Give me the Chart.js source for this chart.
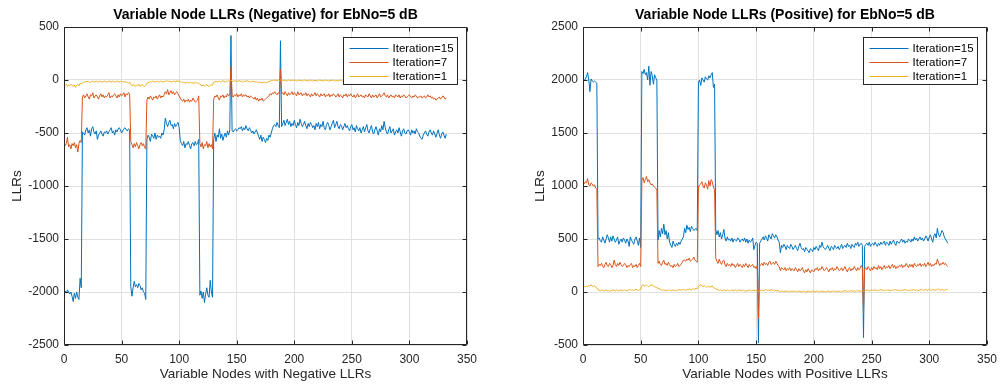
<!DOCTYPE html>
<html>
<head>
<meta charset="utf-8">
<script src="https://cdn.jsdelivr.net/npm/chart.js@4.4.0/dist/chart.umd.min.js"></script>
<style>
  body { margin: 0; background: #fff; }
  #wrap { position: relative; width: 1006px; height: 391px; }
  .panel { position: absolute; top: 0; height: 391px; }
  #left { left: 0; width: 500px; }
  #right { left: 500px; width: 506px; }
</style>
</head>
<body>
<div id="wrap">
  <div class="panel" id="left"><canvas id="negChart" width="500" height="391"></canvas></div>
  <div class="panel" id="right"><canvas id="posChart" width="506" height="391"></canvas></div>
</div>
<script>
const seriesNames = ['Iteration=15', 'Iteration=7', 'Iteration=1']
const seriesColors = ['#0072bd', '#d95319', '#edb120']
const xTicks = [0, 50, 100, 150, 200, 250, 300, 350]
const negYTicks = [-2500, -2000, -1500, -1000, -500, 0, 500]
const posYTicks = [-500, 0, 500, 1000, 1500, 2000, 2500]

// negative LLRs, one value per variable node (1..332)
const negIter15 = [
  -1990,-2010,-1980,-2000,-2020,-2000,-2040,-2090,-2010,-2060,-2000,-2050,-2070,-1870,-1960,
  -490,-500,-520,-470,-450,-500,-470,-530,-460,-440,-490,-510,-480,-560,-520,-500,-480,-510,-530,-490,
  -500,-480,-510,-490,-470,-450,-500,-480,-520,-470,-490,-460,-450,-470,-500,-480,-460,-450,-470,-480,-460,-470,
  -1950,-2040,-1960,-1900,-1950,-1930,-1960,-1920,-1940,-1980,-1960,-2000,-2010,-2070,
  -560,-520,-540,-580,-510,-530,-550,-500,-560,-520,-540,-530,-550,-500,-520,-470,
  -360,-410,-440,-400,-380,-430,-420,-460,-410,-440,-420,-400,-450,
  -570,-600,-620,-580,-640,-600,-610,-580,-620,-650,-600,-590,-620,-580,-610,-600,-560,
  -2030,-1990,-2060,-2000,-2100,-2020,-1960,-2030,-2050,-1890,-2000,-2050,
  -560,-500,-580,-520,-540,-460,-550,-510,-570,-530,-500,-540,-480,-520,-470,
  420,
  -480,-490,-470,-460,-480,-470,-450,-460,-440,-480,-450,-470,-430,-460,-480,-450,-470,-500,-480,-510,
  -490,-470,-500,-530,-560,-520,-580,-540,-560,-590,-550,-570,-520,-540,-500,-460,-430,-420,-440,-400,-430,-450,
  370,
  -440,-410,-380,-430,-400,-370,-420,-390,-440,-410,-430,-380,-420,-450,-400,-430,-370,-410,-440,-420,
  -390,-430,-460,-410,-440,-400,-420,-450,-430,-470,-410,-440,-400,-460,-420,-440,-390,-450,-470,-420,
  -400,-430,-470,-440,-410,-380,-450,-420,-390,-440,-460,-420,-430,-470,-440,-410,-450,-430,-460,-480,
  -440,-420,-470,-450,-490,-430,-460,-480,-450,-500,-470,-440,-490,-450,-420,-480,-500,-460,-430,-490,
  -510,-470,-440,-480,-520,-460,-490,-430,-470,-390,-450,-490,-510,-470,-440,-500,-480,-460,-520,-490,
  -470,-500,-450,-490,-530,-480,-460,-500,-510,-480,-470,-490,-520,-470,-500,-480,-510,-460,-490,-500,
  -530,-550,-560,-520,-500,-480,-510,-530,-490,-470,-500,-520,-480,-510,-540,-500,-470,-520,-550,-510,
  -490,-520,-550,-510
]
const negIter7 = [
  -620,-600,-540,-630,-610,-650,-600,-620,-590,-640,-610,-680,-600,-570,-590,
  -160,-140,-170,-150,-130,-160,-180,-140,-150,-120,-170,-150,-140,-160,-180,-150,-130,-160,-140,-170,
  -150,-160,-140,-120,-170,-150,-160,-140,-130,-150,-170,-140,-160,-130,-150,-140,-120,-160,-130,-140,-120,-130,
  -580,-610,-640,-600,-630,-590,-620,-650,-610,-590,-620,-600,-640,-650,
  -190,-160,-180,-150,-170,-190,-160,-170,-150,-180,-160,-140,-170,-150,-160,-140,
  -110,-130,-90,-140,-120,-100,-130,-110,-140,-120,-110,-130,-150,
  -170,-190,-200,-180,-210,-190,-200,-180,-210,-190,-200,-170,-190,-210,-200,-190,-150,
  -600,-630,-590,-650,-610,-620,-580,-640,-600,-630,-610,-650,
  -180,-150,-160,-140,-170,-190,-150,-160,-140,-170,-150,-160,-130,-150,-140,
  130,
  -150,-160,-140,-150,-130,-160,-140,-150,-130,-160,-140,-150,-140,-160,-150,-170,-150,-160,-170,-180,
  -160,-190,-170,-200,-180,-190,-170,-200,-190,-180,-170,-160,-150,-130,-140,-120,-130,-110,-130,-140,-120,-130,
  100,
  -130,-120,-140,-110,-130,-150,-120,-140,-130,-110,-140,-120,-130,-150,-110,-140,-130,-120,-150,-130,
  -140,-120,-150,-130,-140,-160,-130,-150,-140,-120,-150,-130,-140,-160,-130,-150,-140,-130,-160,-140,
  -150,-130,-160,-140,-150,-130,-140,-160,-150,-130,-160,-140,-150,-170,-140,-150,-130,-160,-140,-150,
  -130,-150,-160,-140,-170,-150,-130,-160,-150,-140,-160,-150,-170,-140,-150,-160,-130,-150,-170,-140,
  -160,-150,-140,-170,-150,-130,-160,-150,-140,-120,-150,-160,-140,-170,-150,-140,-160,-150,-170,-140,
  -150,-160,-140,-170,-150,-160,-140,-150,-170,-160,-150,-140,-160,-170,-150,-160,-140,-150,-170,-160,
  -160,-150,-170,-160,-150,-170,-160,-140,-160,-150,-170,-160,-180,-170,-190,-180,-170,-160,-180,-170,
  -150,-160,-180,-170
]
const negIter1 = [
  -50,-40,-60,-45,-55,-40,-50,-60,-45,-70,-50,-40,-55,-30,-40,
  -25,-20,-15,-20,-10,-15,-20,-25,-15,-10,-20,-15,-10,-15,-20,-10,-15,-20,-15,-10,
  -15,-20,-15,-10,-15,-20,-10,-15,-20,-15,-10,-15,-20,-15,-10,-15,-20,-15,-20,-25,-30,-20,
  -40,-55,-50,-45,-60,-50,-55,-40,-60,-50,-45,-55,-60,-50,
  -30,-25,-20,-15,-20,-10,-15,-20,-15,-10,-20,-15,-10,-15,-20,-15,-10,-15,-5,-15,
  -10,-20,-15,-10,-15,-20,-5,-15,-10,
  -15,-20,-25,-20,-30,-25,-20,-30,-25,-20,-30,-25,-35,-20,-25,-30,-30,
  -40,-50,-55,-45,-60,-50,-45,-55,-60,-50,-45,-50,
  -20,-15,-10,-20,-15,-10,-20,-15,-5,-15,-20,-10,-15,-5,-10,
  0,
  -10,-15,-5,-10,-15,-10,-5,-15,-10,-20,-10,-15,-10,-5,-15,-10,-20,-15,-10,-15,
  -20,-15,-25,-20,-25,-20,-30,-20,-25,-20,-25,-20,-15,-10,-5,-5,0,-5,0,-5,0,-5,
  0,
  0,-5,0,-5,-10,-5,0,-5,-5,0,-5,0,-5,-10,-5,0,-5,-5,-10,-5,
  0,-5,-5,-10,-5,0,-5,-10,-5,-5,-5,-10,-5,0,-5,-5,-10,-5,0,-5,
  -5,-10,-5,-5,0,-5,-10,-5,-5,-10,-5,0,-5,-10,-5,-5,0,-5,-10,-5,
  -10,-5,-5,0,-5,-10,-5,-5,-10,-5,0,-5,-10,-5,-5,-10,-5,0,-5,-5,
  -10,-5,-5,0,-5,-10,-5,-5,-10,-5,-5,0,-5,-10,-5,-5,0,-5,-10,-5,
  -10,-5,-5,0,-5,-10,-5,-5,-10,-5,0,-5,-10,-5,-5,-10,-5,0,-5,-5,
  -10,-5,-5,0,-5,-10,-5,-5,-10,-5,-5,0,-5,-10,-5,-5,0,-5,-10,-5,
  -5,0,-5,-10
]

// positive LLRs, one value per variable node (1..316)
const posIter15 = [
  1990,2010,2030,2070,2000,1890,2010,1990,1980,1990,1980,1970,
  500,510,480,470,520,490,460,500,540,510,470,520,480,530,500,470,490,520,450,480,
  500,470,510,490,460,500,480,430,520,490,470,450,500,520,480,440,510,420,
  2080,2060,2100,2050,2070,2000,2130,1950,2080,2040,1960,2050,2020,2000,
  490,580,520,600,550,640,540,580,500,560,
  470,440,420,480,450,430,460,440,470,450,480,500,520,
  600,560,630,590,610,570,620,600,580,590,600,580,
  1980,2000,1950,2020,2000,1980,2030,2010,2000,2040,2020,2050,2070,1930,1960,
  590,540,580,520,560,500,540,590,510,480,520,490,500,480,510,470,500,490,480,510,
  500,470,490,500,480,510,470,500,460,490,470,480,510,400,440,470,460,
  -480,
  460,480,500,520,490,530,510,480,540,520,500,550,530,510,540,520,490,470,
  370,440,420,450,430,400,440,420,410,450,430,400,420,440,410,390,430,460,420,400,
  410,380,420,400,390,370,410,400,380,420,400,430,410,390,440,420,470,430,410,400,
  420,440,410,390,430,420,400,440,420,410,430,400,420,450,410,430,440,420,460,430,
  440,410,450,430,420,460,440,470,430,450,460,440,
  -430,
  430,450,460,440,470,430,450,460,440,470,450,430,460,440,470,450,460,480,440,470,
  460,440,480,450,470,490,460,440,480,470,460,480,500,470,490,460,480,470,500,490,
  470,500,480,520,490,510,480,500,520,490,510,480,500,530,510,480,520,540,500,470,
  530,550,510,600,540,520,550,580,560,520,500,480,460
]
const posIter7 = [
  1020,1040,1030,1070,1010,1000,1030,1020,1000,1010,980,970,
  240,260,250,270,240,230,260,280,250,240,270,260,230,250,300,260,240,270,250,280,
  260,240,250,270,260,230,250,240,260,270,230,250,240,260,230,250,270,240,
  1050,1080,1030,1060,1090,1040,1060,1030,1010,1020,1000,990,980,960,
  270,290,260,250,280,300,260,270,250,280,260,240,250,230,260,240,250,270,240,250,260,280,300,
  300,290,310,300,320,290,300,310,330,300,290,280,
  990,1010,1020,1040,1000,980,1030,1010,970,1050,1000,1060,1040,990,960,
  320,290,270,310,280,260,290,300,260,240,270,250,260,240,270,250,260,230,250,270,
  240,260,250,230,260,240,270,250,230,260,240,250,260,230,240,220,250,
  -250,
  240,260,270,250,280,260,270,250,280,290,260,270,280,260,290,270,250,240,
  200,230,220,210,230,200,220,210,230,200,220,210,200,230,210,190,220,200,210,230,
  200,180,210,190,220,200,180,210,200,190,220,210,230,200,220,210,240,220,200,210,
  230,210,190,220,210,230,200,220,210,240,220,200,210,230,200,220,240,210,190,220,
  230,200,220,210,240,220,200,230,210,220,250,230,
  -200,
  220,230,210,240,220,200,230,210,240,220,230,210,250,220,240,210,230,250,220,240,
  230,250,220,240,260,230,250,220,240,230,250,240,260,230,250,240,270,250,230,260,
  240,260,230,270,250,240,260,250,270,240,260,250,270,240,260,280,250,270,240,260,
  250,270,260,310,280,250,270,260,280,260,270,250,240
]
const posIter1 = [
  50,50,55,50,60,55,70,55,50,60,45,40,
  20,15,10,20,15,10,15,20,10,15,5,10,15,20,15,10,20,15,10,15,
  20,10,15,20,15,10,15,20,25,15,20,15,20,25,20,15,20,25,
  60,70,55,60,65,55,50,60,65,70,55,50,45,40,
  35,30,25,20,15,20,15,10,20,15,20,10,15,20,15,10,20,15,20,25,
  15,20,25,20,15,25,20,30,25,20,30,25,30,35,30,
  55,60,70,55,50,60,55,45,50,55,45,50,60,40,35,
  30,25,20,15,20,15,10,20,15,10,20,15,10,15,20,10,15,20,10,15,
  20,15,10,20,15,10,5,15,10,20,15,10,15,20,10,15,10,
  0,
  10,15,20,10,15,25,20,15,20,10,25,15,20,10,15,10,15,5,
  5,10,5,0,10,5,10,5,0,10,5,10,5,10,0,5,10,5,0,5,
  10,5,0,5,10,5,0,5,10,5,0,5,10,5,0,5,10,5,5,0,
  5,10,5,0,5,10,5,10,0,5,10,5,0,5,10,5,15,10,5,10,
  5,10,15,5,10,5,10,15,10,5,10,15,
  5,
  10,15,20,15,10,15,20,15,20,15,20,15,10,20,25,15,20,15,10,20,
  15,20,10,15,20,15,25,20,15,20,15,10,20,15,20,25,15,20,15,10,
  20,15,25,20,15,20,10,15,20,25,20,15,20,25,15,20,30,20,15,25,
  20,15,25,20,30,20,15,25,20,15,20,25,20
]

const font = '"Liberation Sans", Arial, Helvetica, sans-serif'
const ink = '#262626'

const toPoints = arr => arr.map((v, i) => ({ x: i + 1, y: v }))

// MATLAB style box, inward ticks and legend drawn over the lines
const matlabAxes = {
  id: 'matlabAxes',
  afterDatasetsDraw(chart) {
    const { ctx, chartArea: a } = chart
    const xs = chart.scales.x, ys = chart.scales.y
    const L = Math.round(a.left) + 0.5, R = Math.round(a.right) - 0.5
    const T = Math.round(a.top) + 0.5, B = Math.round(a.bottom) - 0.5
    ctx.save()
    ctx.strokeStyle = ink
    ctx.lineWidth = 1
    ctx.beginPath()
    ctx.rect(L, T, R - L, B - T)
    xs.ticks.forEach(t => {
      const px = Math.round(xs.getPixelForValue(t.value)) + 0.5
      ctx.moveTo(px, B); ctx.lineTo(px, B - 4)
      ctx.moveTo(px, T); ctx.lineTo(px, T + 4)
    })
    ys.ticks.forEach(t => {
      const py = Math.round(ys.getPixelForValue(t.value)) + 0.5
      ctx.moveTo(L, py); ctx.lineTo(L + 4, py)
      ctx.moveTo(R, py); ctx.lineTo(R - 4, py)
    })
    ctx.stroke()

    // legend
    const w = 114, h = 47
    const bx = Math.round(a.right) - 10 - w + 0.5, by = Math.round(a.top) + 10 + 0.5
    ctx.fillStyle = '#fff'
    ctx.fillRect(bx, by, w, h)
    ctx.strokeStyle = ink
    ctx.strokeRect(bx, by, w, h)
    ctx.font = '11.5px ' + font
    ctx.textBaseline = 'middle'
    ctx.textAlign = 'left'
    chart.data.datasets.forEach((ds, i) => {
      const yy = Math.round(by + 10 + i * 14) + 0.5
      ctx.strokeStyle = ds.borderColor
      ctx.beginPath()
      ctx.moveTo(bx + 6, yy); ctx.lineTo(bx + 45, yy)
      ctx.stroke()
      ctx.fillStyle = '#000'
      ctx.fillText(ds.label, bx + 49, yy)
    })
    ctx.restore()
  }
}

function makeChart(canvasId, title, xLabel, yTicks, series, yWidth, yTitlePad, padRight) {
  const datasets = series.map((arr, i) => ({
    label: seriesNames[i],
    data: toPoints(arr),
    borderColor: seriesColors[i],
    borderWidth: 1,
    pointRadius: 0,
    tension: 0,
    order: series.length - 1 - i
  }))
  return new Chart(document.getElementById(canvasId), {
    type: 'line',
    data: { datasets },
    plugins: [matlabAxes],
    options: {
      responsive: false,
      animation: false,
      layout: { padding: { left: 0, right: padRight, top: 0, bottom: 0 } },
      plugins: {
        legend: { display: false },
        tooltip: { enabled: false },
        title: {
          display: true,
          text: title,
          fullSize: false,
          color: '#000',
          font: { family: font, size: 14, weight: 'bold' },
          padding: { top: 6.6, bottom: 3.6 }
        }
      },
      scales: {
        x: {
          type: 'linear',
          min: xTicks[0],
          max: xTicks[xTicks.length - 1],
          afterBuildTicks: s => { s.ticks = xTicks.map(v => ({ value: v })) },
          afterFit: s => { s.height = 46 },
          grid: { color: '#e1e1e1', drawTicks: false },
          border: { display: false },
          ticks: { color: ink, padding: 7, maxRotation: 0, font: { family: font, size: 12 }, callback: v => String(v) },
          title: { display: true, text: xLabel, color: ink, font: { family: font, size: 13.5 }, padding: { top: 0, bottom: 9 } }
        },
        y: {
          type: 'linear',
          min: yTicks[0],
          max: yTicks[yTicks.length - 1],
          afterBuildTicks: s => { s.ticks = yTicks.map(v => ({ value: v })) },
          afterFit: s => { s.width = yWidth },
          grid: { color: '#e1e1e1', drawTicks: false },
          border: { display: false },
          ticks: { color: ink, padding: 5, font: { family: font, size: 12 }, callback: v => String(v) },
          title: { display: true, text: 'LLRs', color: ink, font: { family: font, size: 13.5 }, padding: { top: yTitlePad, bottom: 0 } }
        }
      }
    }
  })
}

makeChart('negChart', 'Variable Node LLRs (Negative) for EbNo=5 dB', 'Variable Nodes with Negative LLRs',
  negYTicks, [negIter15, negIter7, negIter1], 64, 9, 33)
makeChart('posChart', 'Variable Node LLRs (Positive) for EbNo=5 dB', 'Variable Nodes with Positive LLRs',
  posYTicks, [posIter15, posIter7, posIter1], 83, 32, 19)
</script>
</body>
</html>
